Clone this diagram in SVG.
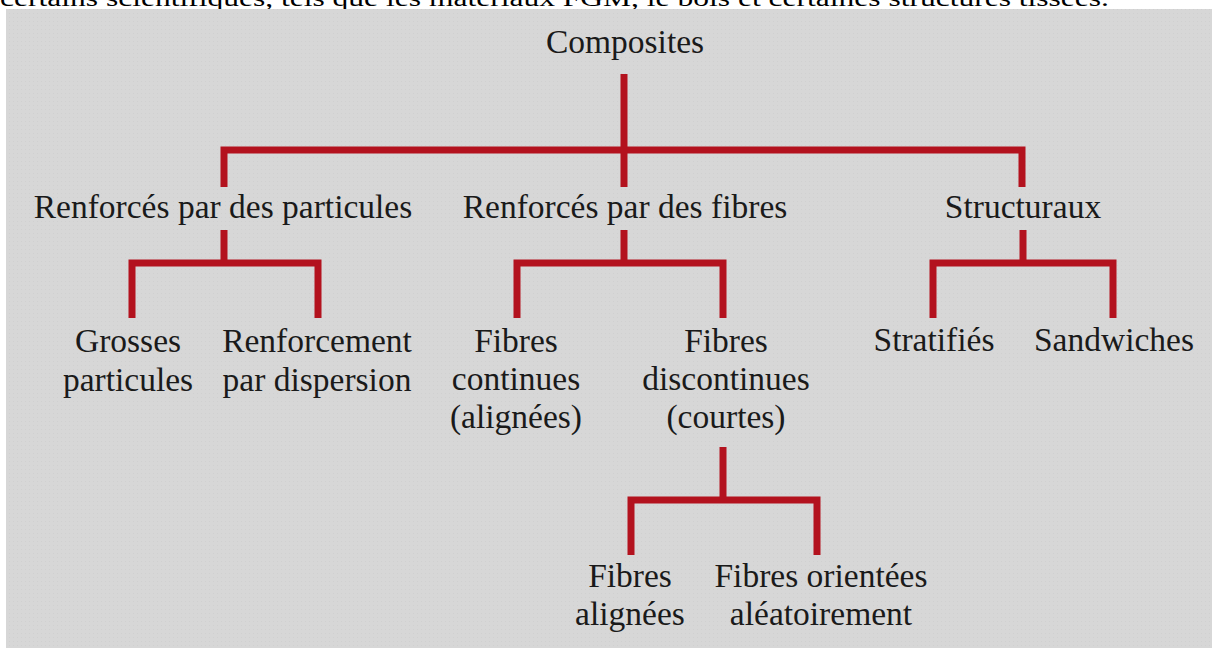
<svg xmlns="http://www.w3.org/2000/svg" width="1212" height="648" viewBox="0 0 1212 648">
<defs>
<style>
.t{font-family:"Liberation Serif","Times New Roman",serif;font-size:33.5px;fill:#1a1a1a;text-anchor:middle}
.top{font-family:"Liberation Serif","Times New Roman",serif;font-size:24px;fill:#000}
.c{fill:none;stroke:#b3121e;stroke-width:7;stroke-linecap:butt;stroke-linejoin:miter}
</style>
<pattern id="dots" width="4" height="4" patternUnits="userSpaceOnUse">
<rect width="4" height="4" fill="#d7d7d7"/>
<rect x="1" y="1" width="1" height="1" fill="#d0d0d0"/>
</pattern>
</defs>
<rect width="1212" height="648" fill="#ffffff"/>
<text class="top" x="0" y="6" textLength="1109" lengthAdjust="spacingAndGlyphs">certains scientifiques, tels que les matériaux FGM, le bois et certaines structures tissées.</text>
<rect x="6" y="9" width="1206" height="639" fill="url(#dots)"/>
<g id="connectors">
<path class="c" d="M624 74 V187 M224 187 V150 H1022 V187"/>
<path class="c" d="M224 230 V263 M132 318 V263 H318 V318"/>
<path class="c" d="M624 230 V263 M517 318 V263 H723 V318"/>
<path class="c" d="M1023 230 V263 M933 318 V263 H1113 V318"/>
<path class="c" d="M723 447 V500 M631 555 V500 H817 V555"/>
</g>
<g id="n-composites"><text class="t" x="625" y="53">Composites</text></g>
<g id="n-particules"><text class="t" x="223" y="218">Renforcés par des particules</text></g>
<g id="n-fibres"><text class="t" x="625" y="218">Renforcés par des fibres</text></g>
<g id="n-structuraux"><text class="t" x="1023" y="218">Structuraux</text></g>
<g id="n-grosses"><text class="t" x="128" y="352">Grosses</text><text class="t" x="128" y="391">particules</text></g>
<g id="n-dispersion"><text class="t" x="317" y="352">Renforcement</text><text class="t" x="317" y="391">par dispersion</text></g>
<g id="n-continues"><text class="t" x="516" y="352">Fibres</text><text class="t" x="516" y="390">continues</text><text class="t" x="516" y="428">(alignées)</text></g>
<g id="n-discontinues"><text class="t" x="726" y="352">Fibres</text><text class="t" x="726" y="390">discontinues</text><text class="t" x="726" y="428">(courtes)</text></g>
<g id="n-stratifies"><text class="t" x="934" y="351">Stratifiés</text></g>
<g id="n-sandwiches"><text class="t" x="1114" y="351">Sandwiches</text></g>
<g id="n-alignees"><text class="t" x="630" y="587">Fibres</text><text class="t" x="630" y="625">alignées</text></g>
<g id="n-aleatoire"><text class="t" x="821" y="587">Fibres orientées</text><text class="t" x="821" y="625">aléatoirement</text></g>
</svg>
